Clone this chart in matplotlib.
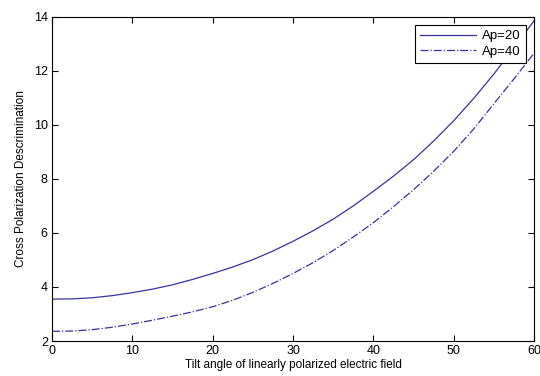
import matplotlib
matplotlib.use("Agg")
import matplotlib.pyplot as plt

plt.rcParams['font.family'] = ['Liberation Sans', 'DejaVu Sans']

tilt = [0, 2.5, 5, 7.5, 10, 12.5, 15, 17.5, 20, 22.5, 25, 27.5, 30,
        32.5, 35, 37.5, 40, 42.5, 45, 47.5, 50, 52.5, 55, 57.5, 60]
ap20 = [3.55, 3.56, 3.60, 3.68, 3.79, 3.92, 4.08, 4.28, 4.50, 4.74, 5.01, 5.33, 5.69,
        6.08, 6.51, 7.00, 7.54, 8.10, 8.71, 9.40, 10.15, 10.98, 11.88, 12.85, 13.85]
ap40 = [2.36, 2.37, 2.42, 2.51, 2.63, 2.77, 2.92, 3.08, 3.27, 3.51, 3.80, 4.13, 4.50,
        4.90, 5.35, 5.85, 6.38, 6.97, 7.60, 8.28, 9.02, 9.85, 10.78, 11.70, 12.65]
labels = ["Ap=20", "Ap=40"]
xticks = [0, 10, 20, 30, 40, 50, 60]
yticks = [2, 4, 6, 8, 10, 12, 14]

fig = plt.figure(figsize=(5.4, 3.76), dpi=100)
ax = fig.add_axes([0.0963, 0.093, 0.8927, 0.8626])
color = '#34349c'
ax.plot(tilt, ap20, '-', color=color, lw=0.9, label=labels[0])
ax.plot(tilt, ap40, '-.', color=color, lw=0.9, label=labels[1])
ax.set_xlim(0, 60)
ax.set_ylim(2, 14)
ax.set_xticks(xticks)
ax.set_yticks(yticks)
ax.tick_params(direction='in', length=4, width=0.8, top=True, right=True, labelsize=9, pad=3)
for s in ax.spines.values():
    s.set_linewidth(0.8)
ax.set_xlabel("Tilt angle of linearly polarized electric field", fontsize=8.5, labelpad=1)
ax.set_ylabel("Cross Polarization Descrimination", fontsize=8.5, labelpad=5)
leg = ax.legend(loc='upper right', fontsize=9.5, fancybox=False, framealpha=1,
                edgecolor='black', borderpad=0.4, handlelength=4.2, handletextpad=0.5,
                borderaxespad=0.6, labelspacing=0.25)
leg.get_frame().set_linewidth(0.8)
fig.savefig("out.png", dpi=100)
